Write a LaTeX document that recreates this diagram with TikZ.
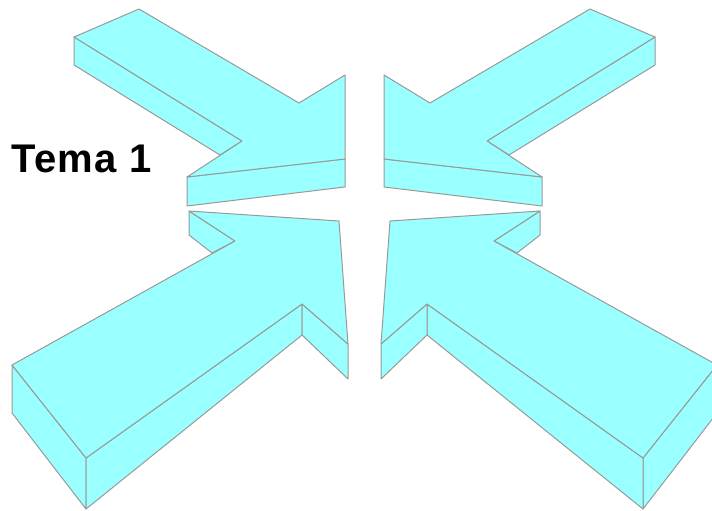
\documentclass[tikz,border=0pt]{standalone}
\usepackage{fontspec}
\setmainfont{Liberation Sans}
\newfontfamily\temafont[LetterSpace=3.5]{Liberation Sans}
\definecolor{acyan}{HTML}{99FFFF}
\definecolor{agrey}{HTML}{999999}
\tikzset{
  every picture/.style={x=1pt, y=-1pt, line join=round},
  face/.style={fill=acyan, draw=agrey, line width=1pt},
  titletext/.style={font=\temafont\bfseries\fontsize{40}{48}\selectfont, inner sep=0pt, anchor=base west},
}
\begin{document}
\begin{tikzpicture}
  \useasboundingbox (0,0) rectangle (712,511);
  \clip (0,0) rectangle (712,511);
  % left pair, then mirrored right pair
  \foreach \sx/\dx in {1/0, -1/729} {
    \begin{scope}[shift={(\dx,0)}, xscale=\sx]
      % upper arrow
      \draw[face] (74,37) -- (242,141) -- (220,155) -- (74,65) -- cycle;
      \draw[face] (187,177) -- (345,159) -- (345,187) -- (187,206) -- cycle;
      \draw[face] (74,37) -- (139,9) -- (299,103) -- (345,75) -- (345,159) -- (187,177) -- (242,141) -- cycle;
      % lower arrow
      \draw[face] (189,211) -- (235,241) -- (212,253) -- (189,235) -- cycle;
      \draw[face] (12,365) -- (86,458) -- (86,509) -- (12,413) -- cycle;
      \draw[face] (86,458) -- (302,304) -- (302,335) -- (86,509) -- cycle;
      \draw[face] (302,304) -- (348,344) -- (348,379) -- (302,335) -- cycle;
      \draw[face] (189,211) -- (339,221) -- (348,344) -- (302,304) -- (86,458) -- (12,365) -- (235,241) -- cycle;
    \end{scope}
  }
  \node[titletext] (tema) at (11,172) {Tema 1};
\end{tikzpicture}
\end{document}
